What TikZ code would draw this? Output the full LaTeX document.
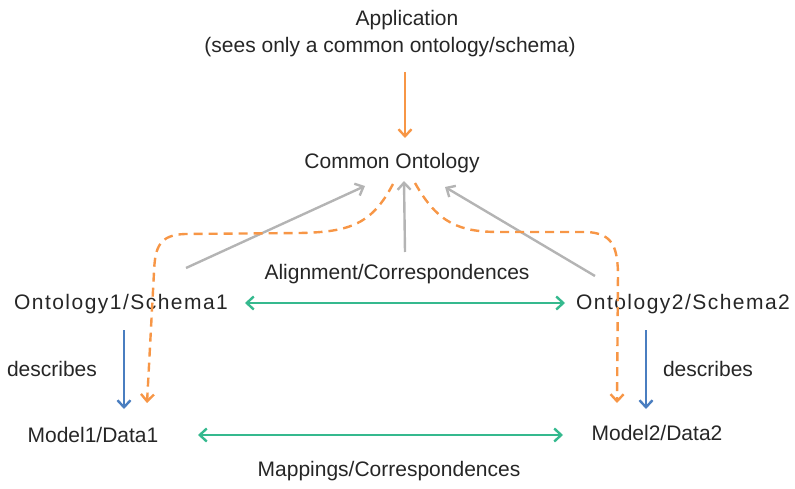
\documentclass[tikz,border=0pt]{standalone}
\usepackage{fontspec}
\setmainfont{Liberation Sans}
\usetikzlibrary{arrows.meta}
\definecolor{txt}{HTML}{262626}
\definecolor{orng}{HTML}{F79646}
\definecolor{gry}{HTML}{B4B4B4}
\definecolor{grn}{HTML}{35B98E}
\definecolor{blu}{HTML}{4A7EC0}
\tikzset{
  lbl/.style={inner sep=0pt, text=txt, font=\fontsize{21}{27}\selectfont},
  spaced/.style={lbl, font=\fontsize{21}{27}\selectfont\addfontfeatures{LetterSpace=7}},
  tip/.style={-{Straight Barb[length=7pt,width=13pt,line width=2.4pt]}},
  orangearrow/.style={tip, draw=orng, line width=2.4pt},
  orangedash/.style={tip, draw=orng, line width=2.4pt, dash pattern=on 9pt off 6pt},
  grayarrow/.style={tip, draw=gry, line width=2.4pt},
  bluearrow/.style={tip, draw=blu, line width=2.4pt},
  greenarrow/.style={{Straight Barb[length=7pt,width=13pt,line width=2.4pt]}-{Straight Barb[length=7pt,width=13pt,line width=2.4pt]}, draw=grn, line width=2.4pt}
}
\begin{document}
\begin{tikzpicture}[x=1pt,y=-1pt]
\useasboundingbox (0,0) rectangle (795,489);
\node[lbl] (app1) at (407,20) {Application};
\node[lbl] (app2) at (390,47) {(sees only a common ontology/schema)};
\node[lbl] (common) at (392,163) {Common Ontology};
\node[lbl] (align) at (397,274) {Alignment/Correspondences};
\node[spaced] (ont1) at (121,304) {Ontology1/Schema1};
\node[spaced] (ont2) at (683,304) {Ontology2/Schema2};
\node[lbl] (desc1) at (52,369) {describes};
\node[lbl] (desc2) at (708,369) {describes};
\node[lbl] (mod1) at (93,435) {Model1/Data1};
\node[lbl] (mod2) at (657,433) {Model2/Data2};
\node[lbl] (map) at (389,471) {Mappings/Correspondences};

% orange app arrow
\coordinate (aS) at (405,72);
\coordinate (aE) at (405,138);
\draw[orangearrow] (aS) -- (aE);

% gray arrows
\coordinate (g1s) at (186,268); \coordinate (g1e) at (365,186);
\coordinate (g2s) at (405,252); \coordinate (g2e) at (404,181);
\coordinate (g3s) at (595,276); \coordinate (g3e) at (445,187);
\draw[grayarrow] (g1s) -- (g1e);
\draw[grayarrow] (g2s) -- (g2e);
\draw[grayarrow] (g3s) -- (g3e);

% orange dashed
\coordinate (d1s) at (393,184); \coordinate (d1e) at (147,403);
\coordinate (d2s) at (415,183); \coordinate (d2e) at (617,403);
\draw[orangedash] (d1s) .. controls (372,224) and (350,232) .. (300,233) -- (185,234) .. controls (160,235) and (155,246) .. (154,272) -- (d1e);
\draw[orangedash] (d2s) .. controls (438,224) and (460,232) .. (500,232) -- (588,232) .. controls (612,234) and (617,246) .. (618,272) -- (d2e);

% blue arrows
\coordinate (b1s) at (124,330); \coordinate (b1e) at (124,409);
\coordinate (b2s) at (646,330); \coordinate (b2e) at (646,409);
\draw[bluearrow] (b1s) -- (b1e);
\draw[bluearrow] (b2s) -- (b2e);

% green arrows
\coordinate (gr1s) at (245,303); \coordinate (gr1e) at (565,303);
\coordinate (gr2s) at (198,435); \coordinate (gr2e) at (563,435);
\draw[greenarrow] (gr1s) -- (gr1e);
\draw[greenarrow] (gr2s) -- (gr2e);
\end{tikzpicture}
\end{document}
